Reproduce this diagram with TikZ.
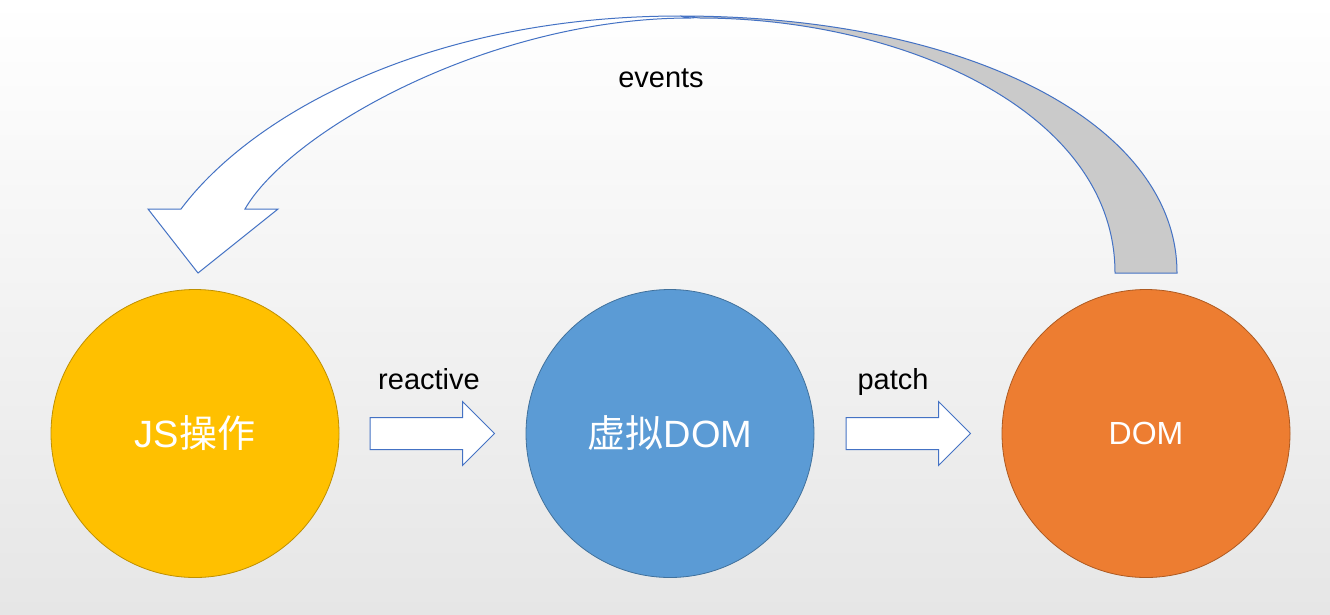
\documentclass[tikz,border=0pt]{standalone}
\usepackage{fontspec}
\setmainfont{Liberation Sans}
\newfontfamily\cjk{Noto Sans CJK SC}
\usetikzlibrary{shapes.arrows}
\definecolor{jsyellow}{HTML}{FFC000}
\definecolor{jsedge}{HTML}{BF9000}
\definecolor{vdomblue}{HTML}{5B9BD5}
\definecolor{vdomedge}{HTML}{41719C}
\definecolor{domorange}{HTML}{ED7D31}
\definecolor{domedge}{HTML}{AE5A21}
\definecolor{arrowblue}{HTML}{4472C4}
\definecolor{bandgray}{HTML}{CACACA}
\definecolor{bgbottom}{HTML}{E6E6E6}
\begin{document}
\begin{tikzpicture}[x=1pt, y=-1pt,
		bubble/.style={circle, line width=0.8pt, minimum size=288pt, inner sep=0pt, text=white},
		fatarrow/.style={single arrow, draw=arrowblue, fill=white, line width=1pt, inner xsep=0pt, inner ysep=15.5pt,
			single arrow head extend=16pt, minimum height=124.5pt, anchor=tail},
		band/.style={draw=arrowblue, line width=1pt, line join=miter},
		tag/.style={anchor=base, text=black, font=\fontsize{29}{32}\selectfont}]
		\shade[top color=white, bottom color=bgbottom] (0,0) rectangle (1330,614);
		\useasboundingbox (0,0) rectangle (1330,614);
		% events arrow, back part first
		\draw[band, fill=bandgray] (680,16) .. controls (968,16) and (1177,124) .. (1177,273)
			-- (1115,273) .. controls (1115,110) and (900,18) .. (700,18) -- cycle;
		\draw[band, fill=white] (680,16) .. controls (430,16) and (253,113) .. (181,209)
			-- (148,209) -- (198,273) -- (278,209) -- (245,209)
			.. controls (290,130.7) and (490,18) .. (690,18) -- cycle;
		\node[tag] (events) at (661,87) {events};
		\node[bubble, draw=jsedge, fill=jsyellow, font=\fontsize{38}{40}\selectfont] (JS) at (195,433.5) {
			JS{\cjk 操作}
		};
		\node[bubble, draw=vdomedge, fill=vdomblue, font=\fontsize{38}{40}\selectfont] (VDOM) at (670,433.5) {
			{\cjk 虚拟}DOM
		};
		\node[bubble, draw=domedge, fill=domorange, font=\fontsize{32}{36}\selectfont] (DOM) at (1146,433.5) {
			DOM
		};
		\node[fatarrow] (reactiveArrow) at (369.5,433.5) {};
		\node[fatarrow] (patchArrow) at (845.5,433.5) {};
		\node[tag] (reactive) at (429,389) {reactive};
		\node[tag] (patch) at (893,389) {patch};
\end{tikzpicture}
\end{document}
